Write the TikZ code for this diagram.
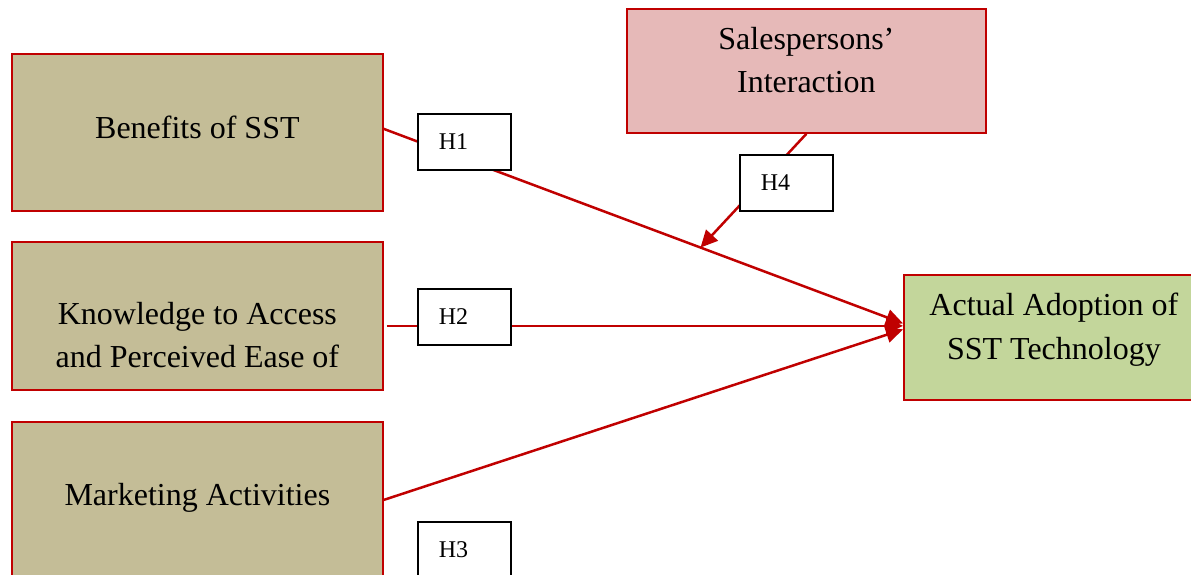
\documentclass[tikz,border=0pt]{standalone}
\usepackage{fontspec}
\setmainfont{Liberation Serif}
\usetikzlibrary{arrows.meta,positioning,calc}
\definecolor{framered}{HTML}{C00000}
\definecolor{tanfill}{HTML}{C4BD97}
\definecolor{pinkfill}{HTML}{E6B9B8}
\definecolor{greenfill}{HTML}{C3D69B}
\tikzset{factor/.style={
    % The shape:
    rectangle, anchor=north west,
    % The size:
    minimum width=371pt,
    minimum height=157pt,
    % The border:
    draw=framered, line width=1.8pt,
    % The filling:
    fill=tanfill,
    },
    boxtext/.style={
    font=\fontsize{32}{43}\selectfont,
    align=center,
    },
    hypo/.style={
    rectangle, anchor=north west,
    minimum height=56pt,
    text width=51pt, inner xsep=21pt,
    align=left,
    draw=black, line width=1.8pt,
    fill=white,
    font=\fontsize{24}{28}\selectfont,
    },
    link/.style={
    draw=framered, line width=2.5pt,
    -{Triangle[length=17pt,width=16pt]},
    },
}

\begin{document}
\begin{tikzpicture}[x=1pt,y=-1pt]
    \useasboundingbox (0,0) rectangle (1191,575);
    \clip (0,0) rectangle (1191,575);

    % factors on the left
    \node (ben)  [factor]                    at (11,53)  {};
    \node (know) [factor,minimum height=148pt] at (11,241) {};
    \node (mkt)  [factor,minimum height=170pt] at (11,421) {};
    \node [boxtext] at ([yshift=5.5pt]ben.center)   {Benefits of SST};
    \node [boxtext] at ([yshift=-19.5pt]know.center) {Knowledge to Access\\and Perceived Ease of};
    \node [boxtext] at ([yshift=9pt]mkt.center)     {Marketing Activities};

    % moderator and outcome
    \node (sal) [factor,fill=pinkfill,minimum width=359pt,minimum height=124pt] at (626,8) {};
    \node (ado) [factor,fill=greenfill,minimum width=290pt,minimum height=125pt] at (903,274) {};
    \node [boxtext] at ([yshift=10.5pt]sal.center) {Salespersons'\\Interaction};
    \node [boxtext,font=\fontsize{32}{44}\selectfont] at ([xshift=5pt,yshift=8pt]ado.center) {Actual Adoption of\\SST Technology};

    % paths
    \draw[link] ([yshift=3.5pt]ben.east) -- ([yshift=14pt]ado.west);
    \draw[link,shorten <=3pt] ([yshift=-10pt]know.east) -- ([yshift=11.5pt]ado.west);
    \draw[link] ([yshift=7pt]mkt.east) -- ([yshift=8pt]ado.west);
    \draw[link] (sal.south) -- ($([yshift=3.5pt]ben.east)!0.61!([yshift=14pt]ado.west)$);

    % hypotheses
    \node (h1) [hypo] at (417,113) {H1};
    \node (h2) [hypo] at (417,288) {H2};
    \node (h3) [hypo] at (417,521) {H3};
    \node (h4) [hypo] at (739,154) {H4};
\end{tikzpicture}
\end{document}
